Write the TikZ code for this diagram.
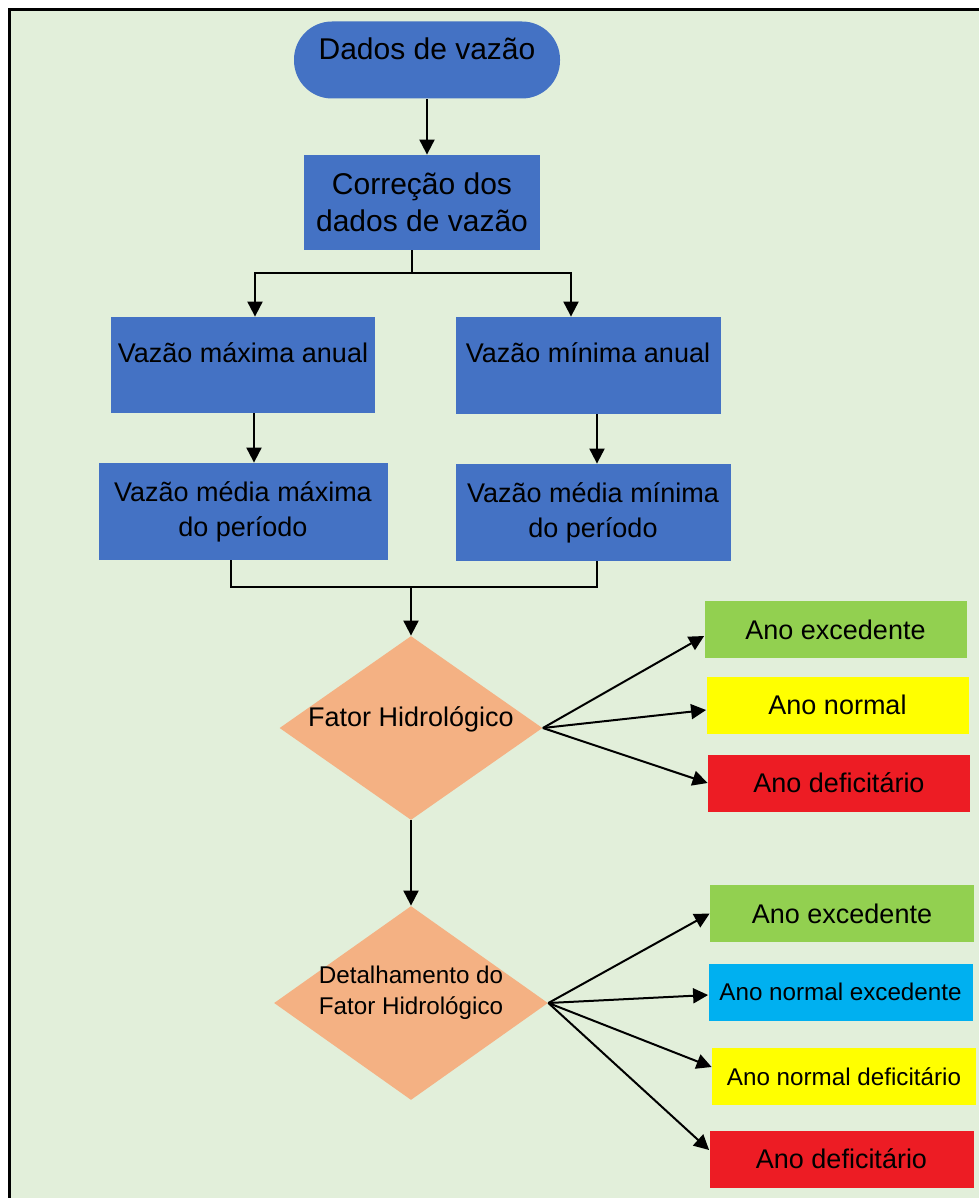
\documentclass[tikz,border=0pt]{standalone}
\usepackage{fontspec}
\setmainfont{Liberation Sans}
\usetikzlibrary{arrows.meta, positioning, shapes.geometric}
\definecolor{cBlue}{RGB}{68,114,196}
\definecolor{cPeach}{RGB}{244,177,131}
\definecolor{cGreen}{RGB}{146,208,80}
\definecolor{cYellow}{RGB}{255,255,0}
\definecolor{cRed}{RGB}{237,28,36}
\definecolor{cCyan}{RGB}{0,176,240}
\definecolor{cBack}{RGB}{226,239,218}
\newcommand{\fsBig}{\fontsize{15pt}{18.5pt}\selectfont}
\newcommand{\fsMid}{\fontsize{13.5pt}{17.5pt}\selectfont}
\newcommand{\fsSmall}{\fontsize{12.1pt}{15.4pt}\selectfont}
\tikzset{
	startstop/.style={rectangle, rounded corners=19pt, minimum width=133pt, minimum height=38.5pt, inner sep=0pt, fill=cBlue, font=\fsBig, text height=0pt, text depth=0pt},
	process/.style  ={rectangle, inner sep=0pt, align=center, fill=cBlue, font=\fsMid},
	decision/.style ={diamond, aspect=2, inner sep=0pt, align=center, fill=cPeach, text height=0pt, text depth=0pt},
	result/.style   ={rectangle, inner sep=0pt, minimum width=131pt, minimum height=28.5pt, align=center, font=\fsMid},
	flowline/.style ={line width=1pt},
	flowarrow/.style={-{Triangle[length=7.5pt, width=7.5pt]}, line width=1pt},
}
\begin{document}
\begin{tikzpicture}[x=0.5pt, y=-0.5pt]
	\useasboundingbox (0,0) rectangle (979,1198);
	% frame
	\fill[cBack] (9.5,9.5) rectangle (979,1198);
	\draw[line width=1.5pt] (9.5,1198) -- (9.5,9.5) -- (979,9.5);
	% main column
	\node[startstop] (dados) at (427,60) {Dados de vazão};
	\node[process, font=\fsBig, minimum width=118pt, minimum height=47.5pt] (corr) at (422,202.5) {Correção dos\\ dados de vazão};
	\node[process, minimum width=132pt, minimum height=48pt, text height=0pt, text depth=3pt] (vmax) at (243,365) {Vazão máxima anual};
	\node[process, minimum width=132.5pt, minimum height=48.5pt, text height=0pt, text depth=3pt] (vmin) at (588,365.5) {Vazão mínima anual};
	\node[process, minimum width=144.5pt, minimum height=48.5pt] (vmedmax) at (243,511.5) {Vazão média máxima\\ do período};
	\node[process, minimum width=137.5pt, minimum height=48.5pt] (vmedmin) at (593,512.5) {Vazão média mínima\\ do período};
	\node[decision, font=\fsMid, minimum width=131.5pt, minimum height=92pt, text depth=2pt] (fh) at (411,728) {Fator Hidrológico};
	\node[decision, font=\fsSmall, minimum width=137pt, minimum height=97pt, text height=11pt] (dfh) at (411,1003) {Detalhamento do\\ Fator Hidrológico};
	% classes of year
	\foreach \n/\x/\y/\c/\t in {exc1/835.5/629.5/cGreen/Ano excedente, norm1/837.5/705/cYellow/Ano normal, def1/839/783/cRed/Ano deficitário}
		\node[result, fill=\c] (\n) at (\x,\y) {\t};
	\foreach \n/\x/\y/\c/\f/\t in {exc2/842/913.5/cGreen/\fsMid/Ano excedente, normexc/840.5/992/cCyan/\fsSmall/Ano normal excedente, normdef/844/1076.5/cYellow/\fsSmall/Ano normal deficitário, def2/841.5/1159/cRed/\fsMid/Ano deficitário}
		\node[result, minimum width=132pt, fill=\c, font=\f] (\n) at (\x,\y) {\t};
	% connectors
	\draw[flowarrow] (dados.south) -- (dados.south |- corr.north);
	\coordinate (split) at (412,272.5);
	\draw[flowline] (corr.south -| split) -- (split);
	\draw[flowarrow] (split) -| ([xshift=6pt]vmax.north);
	\draw[flowarrow] (split) -| ([xshift=-8.5pt]vmin.north);
	\draw[flowarrow] ([xshift=5.5pt]vmax.south) -- ([xshift=5.5pt]vmax.south |- vmedmax.north);
	\draw[flowarrow] ([xshift=4.5pt]vmin.south) -- ([xshift=4.5pt]vmin.south |- vmedmin.north);
	\coordinate (join) at (411,587);
	\draw[flowline] ([xshift=-6.25pt]vmedmax.south) |- (join) -| ([xshift=2pt]vmedmin.south);
	\draw[flowarrow] (join) -- (fh.north);
	\draw[flowarrow] (fh.south) -- (dfh.north);
	\foreach \r/\s in {exc1/-3.25pt, norm1/-2.5pt, def1/0pt}
		\draw[flowarrow] (fh.east) -- ([yshift=\s]\r.west);
	\foreach \r/\s in {exc2/0pt, normexc/-1.5pt, normdef/4.75pt, def2/4.5pt}
		\draw[flowarrow] (dfh.east) -- ([yshift=\s]\r.west);
\end{tikzpicture}
\end{document}
